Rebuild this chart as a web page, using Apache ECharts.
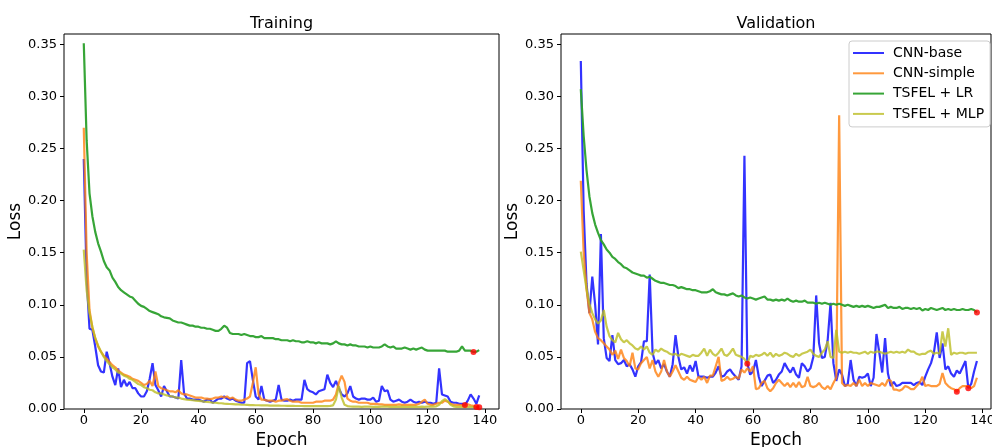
<!DOCTYPE html>
<html>
<head>
<meta charset="utf-8">
<title>Training and validation loss</title>
<script src="https://cdn.jsdelivr.net/npm/echarts@6.0.0/dist/echarts.min.js"></script>
<style>
  html, body { margin: 0; padding: 0; background: #fff; }
  #chart { width: 992px; height: 447px; }
</style>
</head>
<body>
<div id="chart"></div>
<script>
// ---- data ---------------------------------------------------------------
const seriesNames = ['CNN-base', 'CNN-simple', 'TSFEL + LR', 'TSFEL + MLP'];
const xTicks = [0, 20, 40, 60, 80, 100, 120, 140];
const yTicks = [0, 0.05, 0.10, 0.15, 0.20, 0.25, 0.30, 0.35];

// training loss per epoch (epochs 0..138)
const trainBase = [
  0.240, 0.125, 0.077, 0.076, 0.060, 0.042, 0.036, 0.035, 0.055, 0.044,
  0.031, 0.023, 0.039, 0.021, 0.028, 0.022, 0.026, 0.020, 0.020, 0.015,
  0.012, 0.012, 0.017, 0.029, 0.044, 0.023, 0.018, 0.012, 0.022, 0.017,
  0.012, 0.012, 0.011, 0.010, 0.047, 0.015, 0.010, 0.010, 0.009, 0.009,
  0.009, 0.008, 0.007, 0.009, 0.009, 0.006, 0.008, 0.010, 0.010, 0.012,
  0.010, 0.009, 0.010, 0.008, 0.007, 0.006, 0.006, 0.044, 0.046, 0.028,
  0.012, 0.009, 0.022, 0.009, 0.008, 0.007, 0.008, 0.009, 0.023, 0.009,
  0.008, 0.008, 0.009, 0.008, 0.009, 0.009, 0.009, 0.028, 0.019, 0.017,
  0.016, 0.014, 0.017, 0.018, 0.019, 0.033, 0.025, 0.021, 0.027, 0.020,
  0.014, 0.012, 0.015, 0.022, 0.012, 0.010, 0.009, 0.010, 0.010, 0.009,
  0.009, 0.011, 0.007, 0.008, 0.022, 0.017, 0.018, 0.009, 0.007, 0.008,
  0.009, 0.007, 0.006, 0.007, 0.009, 0.007, 0.006, 0.007, 0.006, 0.007,
  0.006, 0.006, 0.005, 0.006, 0.039, 0.014, 0.013, 0.012, 0.007, 0.006,
  0.006, 0.005, 0.005, 0.0038, 0.008, 0.014, 0.010, 0.005, 0.013
];
const trainSimple = [
  0.270, 0.150, 0.095, 0.078, 0.068, 0.060, 0.055, 0.051, 0.048, 0.045,
  0.042, 0.040, 0.037, 0.035, 0.033, 0.032, 0.031, 0.029, 0.028, 0.027,
  0.025, 0.023, 0.024, 0.027, 0.022, 0.036, 0.022, 0.020, 0.019, 0.018,
  0.017, 0.017, 0.016, 0.018, 0.015, 0.014, 0.014, 0.013, 0.012, 0.011,
  0.011, 0.011, 0.010, 0.010, 0.0095, 0.010, 0.011, 0.011, 0.012, 0.011,
  0.012, 0.010, 0.011, 0.009, 0.008, 0.008, 0.009, 0.010, 0.012, 0.025,
  0.040, 0.014, 0.009, 0.009, 0.008, 0.008, 0.008, 0.007, 0.008, 0.008,
  0.009, 0.0095, 0.008, 0.007, 0.007, 0.007, 0.006, 0.006, 0.006, 0.006,
  0.006, 0.007, 0.007, 0.007, 0.008, 0.008, 0.008, 0.009, 0.014, 0.025,
  0.032, 0.026, 0.010, 0.008, 0.007, 0.007, 0.006, 0.006, 0.006, 0.006,
  0.005, 0.005, 0.005, 0.0045, 0.0045, 0.004, 0.004, 0.004, 0.004, 0.004,
  0.0045, 0.004, 0.004, 0.004, 0.004, 0.004, 0.004, 0.005, 0.007, 0.009,
  0.005, 0.004, 0.004, 0.005, 0.006, 0.006, 0.008, 0.007, 0.005, 0.004,
  0.004, 0.004, 0.0035, 0.004, 0.0045, 0.0035, 0.003, 0.0018, 0.002
];
const trainLR = [
  0.351, 0.258, 0.207, 0.185, 0.170, 0.159, 0.151, 0.142, 0.136, 0.133,
  0.126, 0.122, 0.117, 0.114, 0.112, 0.110, 0.108, 0.107, 0.104, 0.101,
  0.099, 0.098, 0.096, 0.094, 0.093, 0.092, 0.091, 0.089, 0.088, 0.0875,
  0.087, 0.085, 0.084, 0.083, 0.083, 0.082, 0.081, 0.080, 0.080, 0.079,
  0.079, 0.078, 0.078, 0.077, 0.077, 0.076, 0.075, 0.075, 0.077, 0.080,
  0.078, 0.073, 0.072, 0.072, 0.072, 0.071, 0.072, 0.071, 0.070, 0.070,
  0.069, 0.069, 0.070, 0.068, 0.068, 0.068, 0.068, 0.067, 0.067, 0.066,
  0.066, 0.066, 0.065, 0.066, 0.065, 0.065, 0.064, 0.064, 0.065, 0.064,
  0.064, 0.063, 0.064, 0.063, 0.063, 0.063, 0.062, 0.063, 0.065, 0.063,
  0.062, 0.062, 0.061, 0.062, 0.061, 0.061, 0.060, 0.060, 0.060, 0.059,
  0.060, 0.059, 0.059, 0.059, 0.060, 0.062, 0.060, 0.059, 0.060, 0.058,
  0.058, 0.058, 0.059, 0.058, 0.057, 0.058, 0.057, 0.058, 0.059, 0.057,
  0.056, 0.056, 0.056, 0.056, 0.056, 0.056, 0.056, 0.055, 0.055, 0.055,
  0.055, 0.056, 0.060, 0.056, 0.056, 0.056, 0.0547, 0.055, 0.0565
];
const trainMLP = [
  0.153, 0.114, 0.092, 0.079, 0.068, 0.061, 0.055, 0.050, 0.046, 0.043,
  0.040, 0.038, 0.035, 0.034, 0.032, 0.031, 0.029, 0.028, 0.026, 0.024,
  0.023, 0.021, 0.020, 0.0185, 0.018, 0.016, 0.015, 0.015, 0.014, 0.013,
  0.0125, 0.012, 0.011, 0.011, 0.010, 0.0095, 0.009, 0.0088, 0.0085, 0.008,
  0.0078, 0.0075, 0.007, 0.0068, 0.0065, 0.0062, 0.006, 0.0057, 0.0055, 0.0052,
  0.005, 0.0048, 0.0047, 0.0045, 0.0044, 0.0042, 0.0041, 0.004, 0.0038, 0.0037,
  0.0036, 0.0036, 0.0035, 0.0034, 0.0034, 0.0033, 0.0033, 0.0032, 0.0032, 0.0031,
  0.0031, 0.003, 0.003, 0.003, 0.0029, 0.0029, 0.0029, 0.0028, 0.0028, 0.0028,
  0.0028, 0.0027, 0.0027, 0.0027, 0.0027, 0.0028, 0.003, 0.0035, 0.009, 0.022,
  0.011, 0.004, 0.0028, 0.0024, 0.0022, 0.0023, 0.0022, 0.0021, 0.0022, 0.0023,
  0.0022, 0.0021, 0.0022, 0.0021, 0.0022, 0.0023, 0.0022, 0.0021, 0.0021, 0.0022,
  0.0021, 0.0022, 0.0021, 0.0021, 0.0022, 0.0021, 0.0022, 0.0021, 0.0022, 0.0021,
  0.0022, 0.0022, 0.0023, 0.0025, 0.004, 0.0075, 0.0095, 0.0075, 0.004, 0.0025,
  0.0021, 0.002, 0.002, 0.0019, 0.002, 0.0019, 0.0019, 0.0018, 0.0016
];

// validation loss per epoch (epochs 0..138)
const valBase = [
  0.334, 0.190, 0.120, 0.092, 0.127, 0.100, 0.062, 0.168, 0.068, 0.049,
  0.046, 0.071, 0.047, 0.043, 0.044, 0.047, 0.041, 0.043, 0.038, 0.031,
  0.041, 0.045, 0.065, 0.065, 0.129, 0.054, 0.043, 0.047, 0.039, 0.043,
  0.036, 0.031, 0.043, 0.071, 0.050, 0.038, 0.040, 0.034, 0.042, 0.036,
  0.046, 0.031, 0.031, 0.031, 0.030, 0.031, 0.031, 0.035, 0.041, 0.031,
  0.032, 0.036, 0.038, 0.034, 0.031, 0.028, 0.041, 0.243, 0.044, 0.033,
  0.036, 0.047, 0.031, 0.022, 0.027, 0.032, 0.033, 0.025, 0.028, 0.033,
  0.036, 0.044, 0.039, 0.035, 0.040, 0.033, 0.030, 0.044, 0.041, 0.036,
  0.039, 0.050, 0.109, 0.063, 0.049, 0.050, 0.066, 0.102, 0.044, 0.027,
  0.038, 0.033, 0.022, 0.024, 0.047, 0.028, 0.022, 0.031, 0.030, 0.031,
  0.034, 0.022, 0.030, 0.072, 0.054, 0.035, 0.068, 0.034, 0.022, 0.026,
  0.022, 0.023, 0.025, 0.025, 0.025, 0.025, 0.023, 0.025, 0.026, 0.023,
  0.031, 0.038, 0.044, 0.054, 0.0735, 0.049, 0.063, 0.038, 0.041, 0.034,
  0.031, 0.037, 0.034, 0.040, 0.046, 0.020, 0.024, 0.036, 0.046
];
const valSimple = [
  0.219, 0.150, 0.115, 0.092, 0.086, 0.074, 0.068, 0.066, 0.063, 0.060,
  0.057, 0.052, 0.056, 0.048, 0.057, 0.049, 0.046, 0.041, 0.054, 0.039,
  0.038, 0.044, 0.047, 0.050, 0.039, 0.047, 0.036, 0.031, 0.036, 0.047,
  0.036, 0.031, 0.036, 0.042, 0.036, 0.030, 0.028, 0.031, 0.028, 0.027,
  0.026, 0.031, 0.028, 0.031, 0.025, 0.032, 0.032, 0.041, 0.050, 0.027,
  0.028, 0.031, 0.028, 0.029, 0.031, 0.029, 0.038, 0.035, 0.039, 0.036,
  0.041, 0.019, 0.020, 0.025, 0.027, 0.020, 0.017, 0.020, 0.025, 0.028,
  0.025, 0.022, 0.025, 0.021, 0.025, 0.021, 0.026, 0.021, 0.022, 0.031,
  0.022, 0.021, 0.022, 0.025, 0.021, 0.019, 0.022, 0.019, 0.025, 0.030,
  0.282, 0.025, 0.022, 0.023, 0.022, 0.025, 0.022, 0.028, 0.022, 0.025,
  0.022, 0.025, 0.024, 0.023, 0.022, 0.025, 0.022, 0.028, 0.027, 0.0185,
  0.0185, 0.0175, 0.019, 0.022, 0.021, 0.019, 0.019, 0.022, 0.025, 0.031,
  0.022, 0.023, 0.022, 0.022, 0.022, 0.024, 0.0345, 0.025, 0.022, 0.020,
  0.019, 0.0166, 0.020, 0.022, 0.022, 0.022, 0.020, 0.022, 0.030
];
const valLR = [
  0.307, 0.262, 0.229, 0.204, 0.188, 0.177, 0.169, 0.162, 0.158, 0.153,
  0.150, 0.146, 0.144, 0.141, 0.139, 0.136, 0.135, 0.133, 0.131, 0.130,
  0.129, 0.128, 0.128, 0.126, 0.127, 0.125, 0.123, 0.122, 0.121, 0.121,
  0.120, 0.119, 0.119, 0.118, 0.116, 0.117, 0.116, 0.115, 0.115, 0.114,
  0.114, 0.113, 0.112, 0.112, 0.112, 0.113, 0.115, 0.112, 0.111, 0.110,
  0.110, 0.109, 0.110, 0.111, 0.109, 0.108, 0.109, 0.107, 0.106, 0.107,
  0.106, 0.105, 0.106, 0.107, 0.108, 0.105, 0.105, 0.104, 0.105, 0.104,
  0.105, 0.104, 0.106, 0.104, 0.103, 0.104, 0.103, 0.103, 0.104, 0.102,
  0.102, 0.102, 0.101, 0.102, 0.101, 0.102, 0.101, 0.100, 0.101, 0.100,
  0.101, 0.100, 0.099, 0.100, 0.099, 0.098, 0.099, 0.098, 0.099, 0.098,
  0.099, 0.098, 0.097, 0.098, 0.098, 0.099, 0.100, 0.097, 0.098, 0.097,
  0.097, 0.098, 0.096, 0.097, 0.097, 0.096, 0.097, 0.096, 0.097, 0.0945,
  0.096, 0.095, 0.097, 0.096, 0.095, 0.096, 0.097, 0.095, 0.096, 0.095,
  0.096, 0.095, 0.095, 0.096, 0.095, 0.095, 0.096, 0.095, 0.0927
];
const valMLP = [
  0.151, 0.133, 0.115, 0.101, 0.092, 0.086, 0.082, 0.085, 0.095, 0.079,
  0.070, 0.066, 0.064, 0.073, 0.067, 0.064, 0.066, 0.063, 0.061, 0.058,
  0.057, 0.060, 0.057, 0.060, 0.054, 0.052, 0.057, 0.055, 0.058, 0.056,
  0.055, 0.053, 0.052, 0.053, 0.051, 0.053, 0.052, 0.051, 0.050, 0.052,
  0.051, 0.051, 0.054, 0.058, 0.051, 0.057, 0.053, 0.051, 0.054, 0.058,
  0.052, 0.051, 0.054, 0.058, 0.052, 0.051, 0.050, 0.048, 0.0434, 0.051,
  0.050, 0.052, 0.051, 0.052, 0.054, 0.051, 0.054, 0.050, 0.053, 0.051,
  0.052, 0.054, 0.053, 0.051, 0.050, 0.053, 0.051, 0.053, 0.054, 0.055,
  0.057, 0.053, 0.051, 0.050, 0.054, 0.057, 0.065, 0.050, 0.049, 0.076,
  0.055, 0.054, 0.055, 0.054, 0.055, 0.054, 0.054, 0.053, 0.054, 0.055,
  0.053, 0.055, 0.054, 0.055, 0.055, 0.054, 0.053, 0.054, 0.055, 0.054,
  0.055, 0.054, 0.055, 0.054, 0.057, 0.055, 0.055, 0.053, 0.052, 0.053,
  0.053, 0.055, 0.056, 0.053, 0.054, 0.053, 0.0745, 0.060, 0.0775, 0.052,
  0.054, 0.053, 0.054, 0.054, 0.053, 0.054, 0.054, 0.054, 0.054
];

// ---- styling --------------------------------------------------------------
const FONT = 'DejaVu Sans';
const colors = ['rgba(0,0,255,0.8)', 'rgba(255,127,14,0.8)', 'rgba(44,160,44,0.95)', 'rgba(188,189,34,0.8)'];
const panels = [
  { title: 'Training',   data: [trainBase, trainSimple, trainLR, trainMLP],
    grid: { left: 64, top: 34, width: 435, height: 375 }, xMax: 144.9 },
  { title: 'Validation', data: [valBase, valSimple, valLR, valMLP],
    grid: { left: 561, top: 34, width: 430, height: 375 }, xMax: 142.9 }
];

const grids = [], xAxes = [], yAxes = [], series = [], titles = [];

panels.forEach((p, gi) => {
  grids.push(Object.assign({ show: true, borderColor: '#000', borderWidth: 1,
                             backgroundColor: 'transparent', containLabel: false,
                             outerBoundsMode: 'none' }, p.grid));
  titles.push({ text: p.title, left: p.grid.left + p.grid.width / 2, top: 16, padding: 0,
                textAlign: 'center',
                textStyle: { fontFamily: FONT, fontSize: 16, fontWeight: 'normal', color: '#000' } });
  xAxes.push({
    type: 'value', gridIndex: gi, min: -6.9, max: p.xMax,
    name: 'Epoch', nameLocation: 'middle', nameGap: 12,
    nameTextStyle: { fontFamily: FONT, fontSize: 17, color: '#000' },
    axisLine: { show: false, onZero: false },
    axisTick: { show: true, inside: false, length: 4, customValues: xTicks,
                lineStyle: { color: '#000', width: 1 } },
    axisLabel: { customValues: xTicks, margin: 5, fontFamily: FONT, fontSize: 13, color: '#000' },
    splitLine: { show: false }
  });
  yAxes.push({
    type: 'value', gridIndex: gi, min: 0, max: 0.3599,
    name: 'Loss', nameLocation: 'middle', nameGap: 37, nameRotate: 90,
    nameTextStyle: { fontFamily: FONT, fontSize: 17, color: '#000' },
    axisLine: { show: false, onZero: false },
    axisTick: { show: true, inside: false, length: 4, customValues: yTicks,
                lineStyle: { color: '#000', width: 1 } },
    axisLabel: { customValues: yTicks, margin: 7, fontFamily: FONT, fontSize: 13, color: '#000',
                 formatter: v => v.toFixed(2) },
    splitLine: { show: false }
  });

  const minPoints = [];
  p.data.forEach((vals, si) => {
    series.push({
      type: 'line', name: seriesNames[si], xAxisIndex: gi, yAxisIndex: gi,
      data: vals.map((v, i) => [i, v]),
      symbol: 'none', showSymbol: false, smooth: false,
      lineStyle: { color: colors[si], width: 2.2 },
      itemStyle: { color: colors[si] },
      z: 2 + si, animation: false, silent: true
    });
    // lowest loss of each model is marked with a red dot
    let best = 0;
    vals.forEach((v, i) => { if (v < vals[best]) best = i; });
    minPoints.push([best, vals[best]]);
  });
  series.push({
    type: 'scatter', xAxisIndex: gi, yAxisIndex: gi, data: minPoints,
    symbol: 'circle', symbolSize: 6, itemStyle: { color: '#ff0000' },
    z: 10, animation: false, silent: true
  });
});

const chart = echarts.init(document.getElementById('chart'), null, { renderer: 'canvas' });
chart.setOption({
  backgroundColor: '#fff',
  animation: false,
  textStyle: { fontFamily: FONT },
  title: titles,
  grid: grids,
  xAxis: xAxes,
  yAxis: yAxes,
  legend: {
    data: seriesNames, orient: 'vertical', left: 849, top: 41,
    padding: [4, 6, 5, 4], itemGap: 4.3, itemWidth: 31, itemHeight: 2, icon: 'rect',
    borderColor: '#cccccc', borderWidth: 1, borderRadius: 3,
    backgroundColor: 'rgba(255,255,255,0.8)',
    textStyle: { fontFamily: FONT, fontSize: 14, color: '#000', lineHeight: 16, padding: [0, 0, 0, 4] },
    selectedMode: false
  },
  series: series
});
</script>
</body>
</html>
